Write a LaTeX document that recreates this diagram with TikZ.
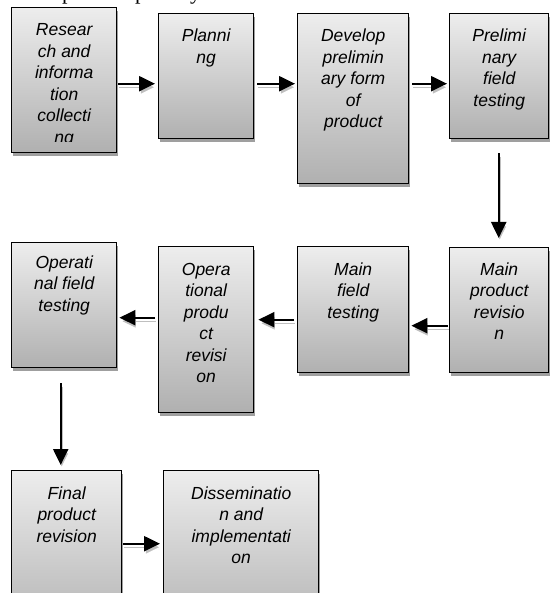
\documentclass[tikz,border=0pt]{standalone}
\usepackage{fontspec}
\setmainfont{Liberation Sans}
\newfontfamily\serifface{Liberation Serif}
\usetikzlibrary{arrows.meta,shadows}
\tikzset{
  box/.style={draw=black, line width=1.4pt, top color=gray!14, bottom color=gray!62,
    anchor=north west, inner sep=0pt,
    drop shadow={shadow xshift=1.2pt, shadow yshift=-3pt, fill=gray!75, opacity=1}},
  txt/.style={anchor=base, inner sep=0pt, font=\itshape\fontsize{17.5}{21.5}\selectfont},
  frag/.style={anchor=base west, inner sep=0pt, font=\serifface\fontsize{22}{22}\selectfont},
  arr/.style={line width=2.2pt, -{Triangle[length=16pt,width=15pt]},
    preaction={draw=gray!50, transform canvas={shift={(1pt,-3.5pt)}}}},
}
\newcommand\bxt[2]{\parbox[t]{#1pt}{\centering #2}}
\begin{document}
\begin{tikzpicture}[x=1pt,y=-1pt]
\useasboundingbox (0,0) rectangle (549,593);
% cut-off line of text above the chart
\node[frag] (f1) at (62,0) {p};
\node[frag] (f2) at (135,0) {p};
\node[frag] (f3) at (190,0) {y};
% boxes
\node[box, minimum width=105pt, minimum height=145pt] (n1) at (11,7) {};
\node[box, minimum width=95pt, minimum height=125pt] (n2) at (158,13) {};
\node[box, minimum width=111pt, minimum height=170pt] (n3) at (297,13) {};
\node[box, minimum width=99pt, minimum height=125pt] (n4) at (449,13) {};
\node[box, minimum width=99pt, minimum height=125pt] (n5) at (449,247) {};
\node[box, minimum width=111pt, minimum height=126pt] (n6) at (297,246) {};
\node[box, minimum width=95pt, minimum height=166pt] (n7) at (158,246) {};
\node[box, minimum width=105pt, minimum height=125pt] (n8) at (11,242) {};
\node[box, minimum width=110pt, minimum height=170pt] (n9) at (11,470) {};
\node[box, minimum width=155pt, minimum height=170pt] (n10) at (163,470) {};
% texts
\begin{scope}
  \clip (n1.north west) rectangle ([yshift=12pt]n1.south east);
  \node[txt] (t1) at ([yshift=-29pt]n1.north) {\bxt{100}{Resear\\ch and\\informa\\tion\\collecti\\ng}};
\end{scope}
\node[txt] (t2) at ([yshift=-29pt]n2.north) {\bxt{90}{Planni\\ng}};
\node[txt] (t3) at ([yshift=-29pt]n3.north) {\bxt{105}{Develop\\prelimin\\ary form\\of\\product}};
\node[txt] (t4) at ([yshift=-29pt]n4.north) {\bxt{95}{Prelimi\\nary\\field\\testing}};
\node[txt] (t5) at ([yshift=-28pt]n5.north) {\bxt{95}{Main\\product\\revisio\\n}};
\node[txt] (t6) at ([yshift=-29pt]n6.north) {\bxt{105}{Main\\field\\testing}};
\node[txt] (t7) at ([yshift=-29pt]n7.north) {\bxt{90}{Opera\\tional\\produ\\ct\\revisi\\on}};
\node[txt] (t8) at ([yshift=-26pt]n8.north) {\bxt{100}{Operati\\nal field\\testing}};
\node[txt] (t9) at ([yshift=-29pt]n9.north) {\bxt{105}{Final\\product\\revision}};
\node[txt] (t10) at ([yshift=-29pt]n10.north) {\bxt{150}{Disseminatio\\n and\\implementati\\on}};
% arrows
\draw[arr, shorten <=1pt, shorten >=3pt] ([yshift=-3.5pt]n1.east) -- ([yshift=-7.5pt]n2.west);
\draw[arr, shorten <=3pt, shorten >=2pt] ([yshift=-7.5pt]n2.east) -- ([yshift=15pt]n3.west);
\draw[arr, shorten <=3pt, shorten >=2pt] ([yshift=15pt]n3.east) -- ([yshift=-7.5pt]n4.west);
\draw[arr, shorten <=14pt, shorten >=9pt] ([xshift=-0.5pt]n4.south) -- ([xshift=-0.5pt]n5.north);
\draw[arr, shorten <=1pt, shorten >=2pt] ([yshift=-15.5pt]n5.west) -- ([yshift=-16pt]n6.east);
\draw[arr, shorten <=3pt, shorten >=4pt] ([yshift=-10pt]n6.west) -- ([yshift=10pt]n7.east);
\draw[arr, shorten <=3pt, shorten >=2pt] ([yshift=12pt]n7.west) -- ([yshift=-12.5pt]n8.east);
\draw[arr, shorten <=15pt, shorten >=5pt] ([xshift=-3.5pt]n8.south) -- ([xshift=-6pt]n9.north);
\draw[arr, shorten <=1pt, shorten >=3pt] ([yshift=12pt]n9.east) -- ([yshift=12pt]n10.west);
\end{tikzpicture}
\end{document}
